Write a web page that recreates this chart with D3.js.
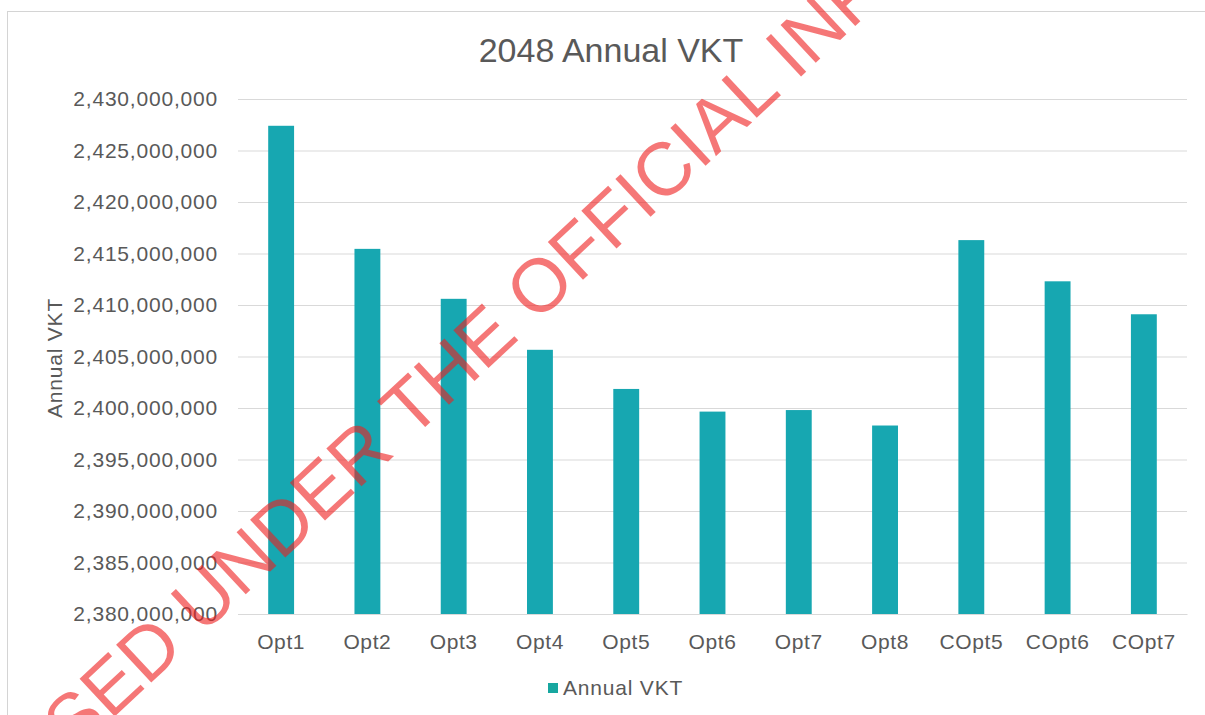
<!DOCTYPE html>
<html>
<head>
<meta charset="utf-8">
<script src="https://cdn.jsdelivr.net/npm/d3@7"></script>
<style>
  body { margin: 0; background: #fff; }
  svg text { font-family: "Liberation Sans", Arial, sans-serif; }
</style>
</head>
<body>
<div id="chart"></div>
<script>
// data
const categories = ['Opt1', 'Opt2', 'Opt3', 'Opt4', 'Opt5', 'Opt6', 'Opt7', 'Opt8', 'COpt5', 'COpt6', 'COpt7'];
const annualVkt = [2427400000, 2415450000, 2410600000, 2405650000, 2401850000, 2399650000, 2399800000, 2398300000, 2416300000, 2412300000, 2409100000];
const yTicks = [2380000000, 2385000000, 2390000000, 2395000000, 2400000000, 2405000000, 2410000000, 2415000000, 2420000000, 2425000000, 2430000000];
const chartTitle = '2048 Annual VKT';
const seriesName = 'Annual VKT';
const watermark = 'RELEASED UNDER THE OFFICIAL INFORMATION ACT';

const W = 1205, H = 715;
const margin = { top: 99, right: 18, bottom: 101, left: 238 };
const width = W - margin.left - margin.right;
const height = H - margin.top - margin.bottom;

const svg = d3.select('#chart').append('svg')
  .attr('width', W)
  .attr('height', H);

// outer chart frame
svg.append('rect')
  .attr('x', 7.5).attr('y', 11.5)
  .attr('width', W).attr('height', H)
  .attr('fill', 'none')
  .attr('stroke', '#d4d4d4');

svg.append('text')
  .attr('x', 611).attr('y', 62)
  .attr('text-anchor', 'middle')
  .attr('font-size', 34)
  .attr('fill', '#595959')
  .text(chartTitle);

const g = svg.append('g')
  .attr('transform', `translate(${margin.left},${margin.top})`);

const xScale = d3.scaleBand()
  .domain(categories)
  .range([0, width])
  .paddingInner(0.7)
  .paddingOuter(0.35);

const yScale = d3.scaleLinear()
  .domain([2380000000, 2430000000])
  .range([height, 0]);

// gridlines
const yAxis = d3.axisLeft(yScale)
  .tickValues(yTicks)
  .tickSize(-width)
  .tickPadding(20)
  .tickFormat(d3.format(','));
g.append('g').call(yAxis)
  .call(s => s.select('.domain').remove())
  .call(s => s.selectAll('line').attr('stroke', '#d9d9d9'))
  .call(s => s.selectAll('text')
    .attr('font-size', 21)
    .attr('letter-spacing', 0.8)
    .attr('fill', '#595959'));

g.selectAll('.bar')
  .data(annualVkt)
  .enter().append('rect')
  .attr('class', 'bar')
  .attr('x', (d, i) => xScale(categories[i]))
  .attr('y', d => yScale(d))
  .attr('width', xScale.bandwidth())
  .attr('height', d => height - yScale(d))
  .attr('fill', '#17a7b1');

const xAxis = d3.axisBottom(xScale).tickSize(0).tickPadding(20);
g.append('g')
  .attr('transform', `translate(0,${height})`)
  .call(xAxis)
  .call(s => s.select('.domain').attr('stroke', '#d9d9d9'))
  .call(s => s.selectAll('text')
    .attr('font-size', 21)
    .attr('letter-spacing', 0.6)
    .attr('fill', '#595959'));

// y axis title
svg.append('text')
  .attr('transform', 'translate(62,358) rotate(-90)')
  .attr('text-anchor', 'middle')
  .attr('font-size', 21)
  .attr('letter-spacing', 0.8)
  .attr('fill', '#595959')
  .text(seriesName);

// legend
const legend = svg.append('g').attr('transform', 'translate(548,683)');
legend.append('rect')
  .attr('width', 10).attr('height', 10)
  .attr('fill', '#17a7a0');
legend.append('text')
  .attr('x', 15).attr('y', 12)
  .attr('font-size', 21)
  .attr('letter-spacing', 0.8)
  .attr('fill', '#595959')
  .text(seriesName);

// watermark stamp across the chart
svg.append('text')
  .attr('transform', 'translate(578,249) rotate(-43)')
  .attr('text-anchor', 'middle')
  .attr('dominant-baseline', 'central')
  .attr('font-size', 75)
  .attr('fill', 'rgb(240,30,30)')
  .attr('opacity', 0.6)
  .text(watermark);
</script>
</body>
</html>
